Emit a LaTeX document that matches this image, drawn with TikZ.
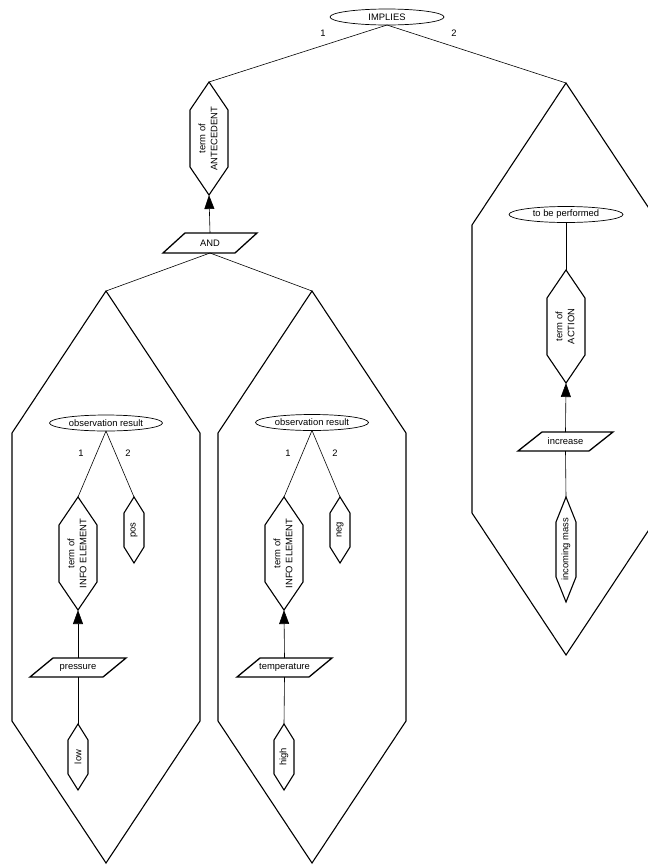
\documentclass[tikz,border=0pt]{standalone}
\usepackage{fontspec}
\setmainfont{Liberation Sans}
\usepackage{graphicx}
\usepackage{tikz}
\usetikzlibrary{arrows.meta,shapes.geometric}
\definecolor{figline}{RGB}{0,0,0}
\tikzset{
  lab/.style    ={font=\fontsize{9.4}{12}\selectfont, inner sep=0pt, outer sep=0pt},
  ovl/.style    ={lab, ellipse, draw=figline, line width=0.7pt, minimum width=114pt, minimum height=16pt},
  hexbig/.style ={lab, minimum width=188pt, minimum height=572pt},
  hexterm/.style={lab, minimum width=38pt, minimum height=113pt},
  hexval/.style ={lab, minimum width=20pt, minimum height=66pt},
  parn/.style   ={lab, minimum width=95pt, minimum height=19pt},
  hexl/.style   ={draw=figline, line width=1.1pt, line join=miter},
  parl/.style   ={draw=figline, line width=1.3pt, line join=miter},
  con/.style    ={draw=figline, line width=0.6pt},
  ptr/.style    ={con, -{Triangle[length=14pt,width=10pt]}},
}

\begin{document}
\begin{tikzpicture}[x=1pt,y=-1pt]
  \useasboundingbox (0,0) rectangle (648,865);
  \clip (0,0) rectangle (648,865);
  % top level
  \node[ovl] (impl) at (387,17) {IMPLIES};
  \node[lab] (impl1) at (323,33) {1};
  \node[lab] (impl2) at (454,33) {2};
  \node[hexterm] (ante) at (209,138.5) {\rotatebox{90}{\begin{tabular}{@{}c@{}}term of\\ANTECEDENT\end{tabular}}};
  \node[parn,minimum width=94pt,minimum height=20pt] (andp) at (210,243) {AND};
  \node[hexbig] (bigl) at (106,577) {};
  \node[hexbig] (bigm) at (312,577) {};
  \node[hexbig] (bigr) at (566,369) {};
  % left box
  \node[ovl,minimum width=113pt] (obsl) at (106,423) {observation result};
  \node[lab] (obsl1) at (81,453) {1};
  \node[lab] (obsl2) at (128,453) {2};
  \node[hexterm] (infol) at (78,553.5) {\rotatebox{90}{\begin{tabular}{@{}c@{}}term of\\INFO ELEMENT\end{tabular}}};
  \node[hexval] (pos) at (134,530) {\rotatebox{90}{pos}};
  \node[parn,minimum width=96pt] (press) at (78,667.5) {pressure};
  \node[hexval] (low) at (78,757) {\rotatebox{90}{low}};
  % middle box
  \node[ovl,minimum width=113pt] (obsm) at (312,422.5) {observation result};
  \node[lab] (obsm1) at (288,453) {1};
  \node[lab] (obsm2) at (335,453) {2};
  \node[hexterm] (infom) at (284,553.5) {\rotatebox{90}{\begin{tabular}{@{}c@{}}term of\\INFO ELEMENT\end{tabular}}};
  \node[hexval] (neg) at (340,530) {\rotatebox{90}{neg}};
  \node[parn] (temp) at (284.5,667.5) {temperature};
  \node[hexval] (high) at (284,757) {\rotatebox{90}{high}};
  % right box
  \node[ovl] (perf) at (566,214.5) {to be performed};
  \node[hexterm] (act) at (566,326.5) {\rotatebox{90}{\begin{tabular}{@{}c@{}}term of\\ACTION\end{tabular}}};
  \node[parn] (incr) at (565.5,441.5) {increase};
  \node[hexval,minimum height=105pt] (mass) at (566,549.5) {\rotatebox{90}{incoming mass}};

  % hexagon outlines
  \draw[hexl] (bigl.north) -- ([yshift=-142pt]bigl.north east) -- ([yshift=142pt]bigl.south east) -- (bigl.south) -- ([yshift=142pt]bigl.south west) -- ([yshift=-142pt]bigl.north west) -- cycle;
  \draw[hexl] (bigm.north) -- ([yshift=-142pt]bigm.north east) -- ([yshift=142pt]bigm.south east) -- (bigm.south) -- ([yshift=142pt]bigm.south west) -- ([yshift=-142pt]bigm.north west) -- cycle;
  \draw[hexl] (bigr.north) -- ([yshift=-142pt]bigr.north east) -- ([yshift=142pt]bigr.south east) -- (bigr.south) -- ([yshift=142pt]bigr.south west) -- ([yshift=-142pt]bigr.north west) -- cycle;
  \draw[hexl] (ante.north) -- ([yshift=-28pt]ante.north east) -- ([yshift=28pt]ante.south east) -- (ante.south) -- ([yshift=28pt]ante.south west) -- ([yshift=-28pt]ante.north west) -- cycle;
  \draw[hexl] (infol.north) -- ([yshift=-28pt]infol.north east) -- ([yshift=28pt]infol.south east) -- (infol.south) -- ([yshift=28pt]infol.south west) -- ([yshift=-28pt]infol.north west) -- cycle;
  \draw[hexl] (infom.north) -- ([yshift=-28pt]infom.north east) -- ([yshift=28pt]infom.south east) -- (infom.south) -- ([yshift=28pt]infom.south west) -- ([yshift=-28pt]infom.north west) -- cycle;
  \draw[hexl] (act.north) -- ([yshift=-28pt]act.north east) -- ([yshift=28pt]act.south east) -- (act.south) -- ([yshift=28pt]act.south west) -- ([yshift=-28pt]act.north west) -- cycle;
  \draw[hexl] (pos.north) -- ([yshift=-16pt]pos.north east) -- ([yshift=16pt]pos.south east) -- (pos.south) -- ([yshift=16pt]pos.south west) -- ([yshift=-16pt]pos.north west) -- cycle;
  \draw[hexl] (neg.north) -- ([yshift=-16pt]neg.north east) -- ([yshift=16pt]neg.south east) -- (neg.south) -- ([yshift=16pt]neg.south west) -- ([yshift=-16pt]neg.north west) -- cycle;
  \draw[hexl] (low.north) -- ([yshift=-16pt]low.north east) -- ([yshift=16pt]low.south east) -- (low.south) -- ([yshift=16pt]low.south west) -- ([yshift=-16pt]low.north west) -- cycle;
  \draw[hexl] (high.north) -- ([yshift=-16pt]high.north east) -- ([yshift=16pt]high.south east) -- (high.south) -- ([yshift=16pt]high.south west) -- ([yshift=-16pt]high.north west) -- cycle;
  \draw[hexl] (mass.north) -- ([yshift=-25pt]mass.north east) -- ([yshift=25pt]mass.south east) -- (mass.south) -- ([yshift=25pt]mass.south west) -- ([yshift=-25pt]mass.north west) -- cycle;

  % parallelogram outlines
  \draw[parl] ([xshift=22pt]andp.north west) -- (andp.north east) -- ([xshift=-22pt]andp.south east) -- (andp.south west) -- cycle;
  \draw[parl] ([xshift=23pt]press.north west) -- (press.north east) -- ([xshift=-23pt]press.south east) -- (press.south west) -- cycle;
  \draw[parl] ([xshift=23pt]temp.north west) -- (temp.north east) -- ([xshift=-23pt]temp.south east) -- (temp.south west) -- cycle;
  \draw[parl] ([xshift=24pt]incr.north west) -- (incr.north east) -- ([xshift=-24pt]incr.south east) -- (incr.south west) -- cycle;

  % connectors
  \draw[con] (impl.south) -- (ante.north);
  \draw[con] (impl.south) -- (bigr.north);
  \draw[ptr] (andp.north) -- (ante.south);
  \draw[con] (andp.south) -- (bigl.north);
  \draw[con] (andp.south) -- (bigm.north);
  \draw[con] (obsl.south) -- (infol.north);
  \draw[con] (obsl.south) -- (pos.north);
  \draw[ptr] (press.north) -- (infol.south);
  \draw[con] (press.south) -- (low.north);
  \draw[con] (obsm.south) -- (infom.north);
  \draw[con] (obsm.south) -- (neg.north);
  \draw[ptr] (temp.north) -- (infom.south);
  \draw[con] (temp.south) -- (high.north);
  \draw[con] (perf.south) -- (act.north);
  \draw[ptr] (incr.north) -- (act.south);
  \draw[con] (incr.south) -- (mass.north);
\end{tikzpicture}
\end{document}
